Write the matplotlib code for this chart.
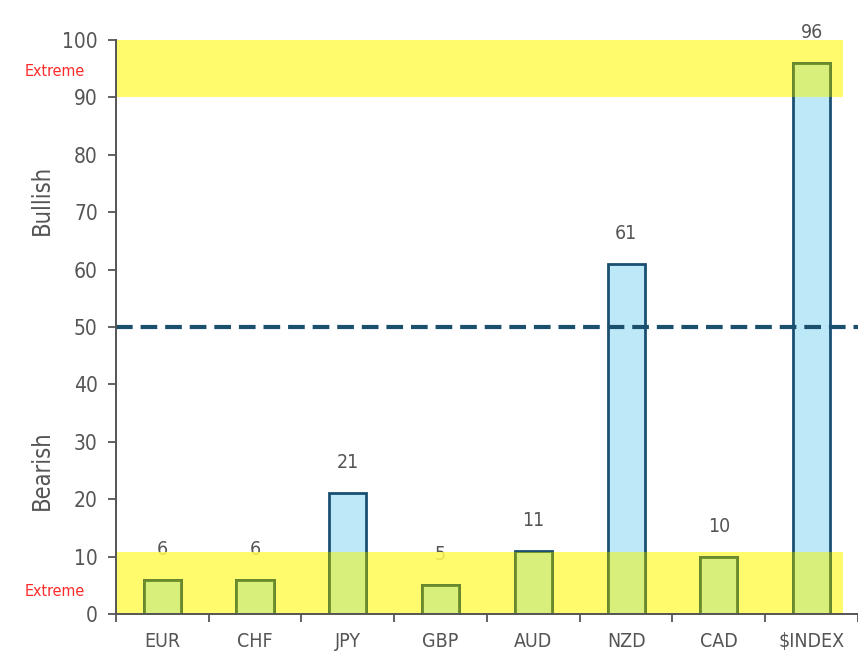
import numpy as np
import matplotlib
matplotlib.use("Agg")
import matplotlib.pyplot as plt
from matplotlib.patches import Rectangle
from matplotlib import font_manager

# sentiment readings per currency
currencies = ["EUR", "CHF", "JPY", "GBP", "AUD", "NZD", "CAD", "$INDEX"]
readings = [6, 6, 21, 5, 11, 61, 10, 96]

# extreme zones
low_zone = (0, 10.8)
high_zone = (90, 100)
neutral = 50

plt.rcParams['font.family'] = ['DejaVu Sans']
plt.rcParams['font.stretch'] = 'condensed'
print(font_manager.findfont(font_manager.FontProperties(family='DejaVu Sans', stretch='condensed')))

fig = plt.figure(figsize=(8.58, 6.62), dpi=100)
ax = fig.add_axes([0.135, 0.0725, 0.865, 0.867])

x = np.arange(len(currencies))
bar_w = 0.4
face = "#BDE8F8"
edge = "#1B4F72"
band_yellow = "#FFFB52"
band_alpha = 0.85
zone_face = "#D8EF7C"
zone_edge = "#6C8C2A"

# value labels sit under the yellow zones
for xi, v in zip(x, readings):
    ax.annotate(str(v), (xi, v), xytext=(0, 22), textcoords="offset points",
                ha="center", va="center", fontsize=14, color="#555555", zorder=1)

band_x0, band_x1 = -0.5, 7.34
zones = []
for lo, hi in (low_zone, high_zone):
    r = Rectangle((band_x0, lo), band_x1 - band_x0, hi - lo, facecolor=band_yellow,
                  alpha=band_alpha, edgecolor="none", zorder=2)
    ax.add_patch(r)
    zones.append(r)

ax.bar(x, readings, width=bar_w, color=face, edgecolor=edge, linewidth=2.0, zorder=3)

# redraw the parts of the bars lying inside the zones in a tinted colour
for r in zones:
    clip = Rectangle(r.get_xy(), r.get_width(), r.get_height(), transform=ax.transData)
    tinted = ax.bar(x, readings, width=bar_w, color=zone_face, edgecolor=zone_edge,
                    linewidth=2.0, zorder=4)
    for p in tinted:
        p.set_clip_path(clip)

ax.axhline(neutral, color="#1A4F6E", linewidth=3.0, linestyle=(0, (4.0, 1.9)),
           zorder=5, clip_on=False)

ax.set_xlim(-0.5, 7.5)
ax.set_ylim(0, 100)
ax.set_yticks(np.arange(0, 101, 10))
ax.set_xticks(x)
ax.set_xticklabels(currencies)
ax.set_xticks(np.arange(-0.5, 7.6, 1), minor=True)
ax.tick_params(axis="x", which="major", length=0, pad=13, labelsize=14, labelcolor="#555555")
ax.tick_params(axis="x", which="minor", length=6, width=1.3, color="#555555", direction="out")
ax.tick_params(axis="y", length=6, width=1.3, color="#555555", pad=7,
               labelsize=15, labelcolor="#555555")

for s in ("top", "right"):
    ax.spines[s].set_visible(False)
for s in ("left", "bottom"):
    ax.spines[s].set_color("#555555")
    ax.spines[s].set_linewidth(1.4)
    ax.spines[s].set_zorder(6)

fig.text(0.049, 1 - 200 / 662, "Bullish", rotation=90, ha="center", va="center",
         fontsize=17, color="#555555")
fig.text(0.049, 1 - 470 / 662, "Bearish", rotation=90, ha="center", va="center",
         fontsize=17, color="#555555")
fig.text(0.064, 1 - 72 / 662, "Extreme", ha="center", va="center", fontsize=11.5,
         color="#FF2A2A")
fig.text(0.064, 1 - 592 / 662, "Extreme", ha="center", va="center", fontsize=11.5,
         color="#FF2A2A")

fig.savefig("out.png", dpi=100)
